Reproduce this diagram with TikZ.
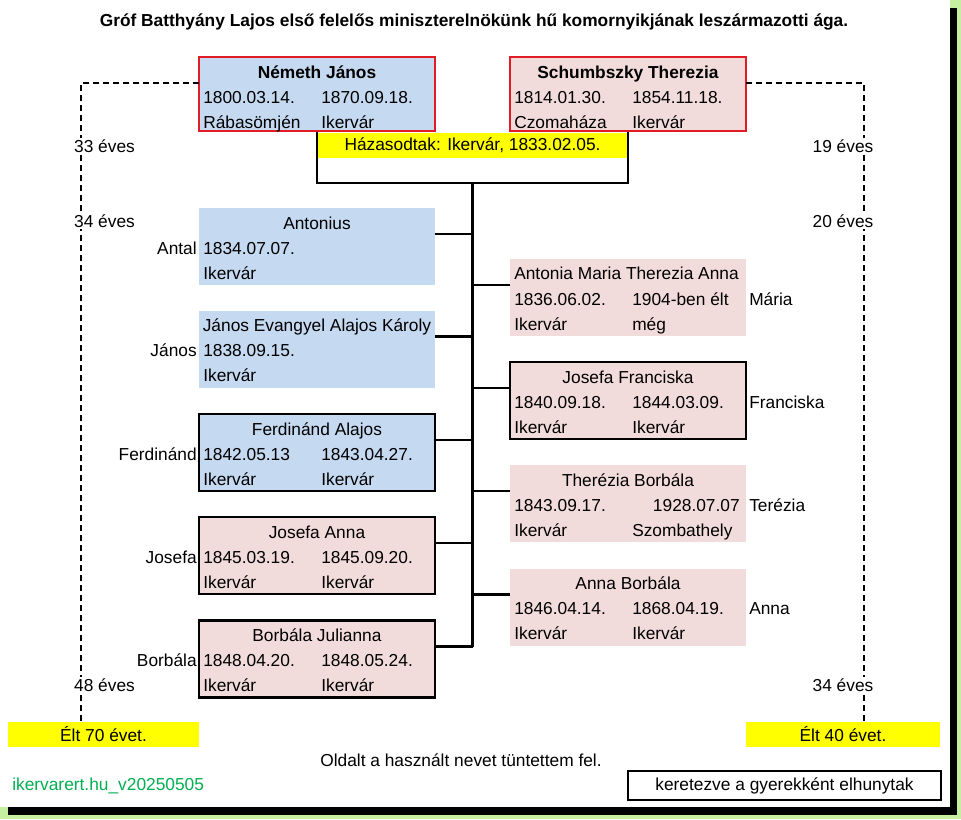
\documentclass[tikz,border=0pt]{standalone}
\usepackage{fontspec}
\setmainfont{Liberation Sans}
\usetikzlibrary{calc}
\definecolor{pblue}{HTML}{C5D9F1}
\definecolor{ppink}{HTML}{F2DCDB}
\definecolor{pred}{RGB}{226,28,36}
\definecolor{wgreen}{HTML}{00B050}
\definecolor{frgreen}{RGB}{196,240,160}
\definecolor{hyellow}{HTML}{FFFF00}
\tikzset{
  every node/.style={font=\fontsize{13}{15}\selectfont},
  pbox/.style={rectangle, minimum width=177pt, minimum height=57.75pt, inner sep=0, outer sep=0},
  topbox/.style={pbox, minimum height=55.5pt, draw=pred, line width=1.5pt},
  kbox/.style={draw=black, line width=1.6pt},
  conn/.style={line width=1.6pt, draw=black},
  dsh/.style={line width=0.8pt, dash pattern=on 4.5pt off 3pt},
  cellL/.style={anchor=base west, inner sep=0},
  cellR/.style={anchor=base east, inner sep=0},
  cellC/.style={anchor=base, inner sep=0},
  agel/.style={fill=white, inner sep=1.5pt},
  ybox/.style={fill=hyellow, inner sep=0, minimum height=18.75pt},
}
\newcommand{\Cells}[5]{%
  \node[cellL] (#1-d1) at ($(#1.north west)+(4,46)$) {#2};
  \node[cellL] (#1-d2) at ($(#1.north west)+(122,46)$) {#3};
  \node[cellL] (#1-p1) at ($(#1.north west)+(4,71)$) {#4};
  \node[cellL] (#1-p2) at ($(#1.north west)+(122,71)$) {#5};}
\newcommand{\Ttl}[2]{\node[cellC] (#1-t) at ($(#1.north)+(0,21)$) {#2};}
\newcommand{\LLab}[2]{\node[cellR] (#1-l) at ($(#1.north west)+(-2,46)$) {#2};}
\newcommand{\RLab}[2]{\node[cellL] (#1-l) at ($(#1.north east)+(3,46)$) {#2};}
\begin{document}
\begin{tikzpicture}[x=0.75pt,y=-0.75pt]
\useasboundingbox (0,0) rectangle (961,819);
% frame
\fill[frgreen] (0,0) rectangle (961,819);
\fill[black] (8,8) rectangle (957,815);
\fill[white] (0,0) rectangle (950,807);

% title
\node[font=\fontsize{13}{15}\selectfont\bfseries] (title) at (474,22) {Gróf Batthyány Lajos első felelős miniszterelnökünk hű komornyikjának leszármazotti ága.};

% marriage bracket
\node[minimum width=233.25pt, minimum height=39pt, inner sep=0, outer sep=0] (m) at (472.5,157) {};
\node[ybox, minimum width=231.75pt] (mt) at (472.5,145.5) {Házasodtak: Ikervár, 1833.02.05.};
\draw[conn] (m.north west) -- (m.south west) -- (m.south east) -- (m.north east);

% parents
\node[topbox, fill=pblue] (nj) at (317,94) {};
\Ttl{nj}{\textbf{Németh János}}
\Cells{nj}{1800.03.14.}{1870.09.18.}{Rábasömjén}{Ikervár}
\node[topbox, fill=ppink] (st) at (628,94) {};
\Ttl{st}{\textbf{Schumbszky Therezia}}
\Cells{st}{1814.01.30.}{1854.11.18.}{Czomaháza}{Ikervár}

% yellow life boxes
\node[ybox, minimum width=143.25pt] (e70) at (103.5,734.5) {Élt 70 évet.};
\node[ybox, minimum width=145.5pt] (e40) at (843,734.5) {Élt 40 évet.};

% dashed age lines
\coordinate (lc) at (81,83);
\coordinate (rc) at (864,83);
\draw[dsh] (nj.west |- lc) -- (lc) -- (lc |- e70.north);
\draw[dsh] (st.east |- rc) -- (rc) -- (rc |- e40.north);
\node[agel] (a33) at (104.5,146) {33 éves};
\node[agel] (a34) at (104.5,221) {34 éves};
\node[agel] (a48) at (104.5,685) {48 éves};
\node[agel] (a19) at (843,146) {19 éves};
\node[agel] (a20) at (843,221) {20 éves};
\node[agel] (a34r) at (843,685) {34 éves};

% children boxes
\node[pbox, fill=pblue] (c1) at (317,246.5) {};
\node[pbox, fill=pblue] (c2) at (317,349) {};
\node[pbox, fill=pblue, kbox] (c3) at (317,452.5) {};
\node[pbox, fill=ppink, kbox] (c4) at (317,555.5) {};
\node[pbox, fill=ppink, kbox] (c5) at (317,659) {};
\node[pbox, fill=ppink] (d1) at (628,297.5) {};
\node[pbox, fill=ppink, kbox] (d2) at (628,400.5) {};
\node[pbox, fill=ppink] (d3) at (628,503.5) {};
\node[pbox, fill=ppink] (d4) at (628,607) {};

% connectors
\foreach \b in {c1,c2,c3,c4,c5}{
  \coordinate (\b-c) at ($(\b.north east)+(0,26)$);
  \draw[conn] (\b-c) -- (\b-c -| m.south);
}
\foreach \b in {d1,d2,d3,d4}{
  \coordinate (\b-c) at ($(\b.north west)+(0,26)$);
  \draw[conn] (\b-c) -- (\b-c -| m.south);
}
\draw[conn] (m.south) -- (m.south |- c5-c);

% children texts
\Ttl{c1}{Antonius}
\node[cellL] (c1-d1) at ($(c1.north west)+(4,46)$) {1834.07.07.};
\node[cellL] (c1-p1) at ($(c1.north west)+(4,71)$) {Ikervár};
\LLab{c1}{Antal}

\Ttl{c2}{János Evangyel Alajos Károly}
\node[cellL] (c2-d1) at ($(c2.north west)+(4,46)$) {1838.09.15.};
\node[cellL] (c2-p1) at ($(c2.north west)+(4,71)$) {Ikervár};
\LLab{c2}{János}

\Ttl{c3}{Ferdinánd Alajos}
\Cells{c3}{1842.05.13}{1843.04.27.}{Ikervár}{Ikervár}
\LLab{c3}{Ferdinánd}

\Ttl{c4}{Josefa Anna}
\Cells{c4}{1845.03.19.}{1845.09.20.}{Ikervár}{Ikervár}
\LLab{c4}{Josefa}

\Ttl{c5}{Borbála Julianna}
\Cells{c5}{1848.04.20.}{1848.05.24.}{Ikervár}{Ikervár}
\LLab{c5}{Borbála}

\node[cellL] (d1-t) at ($(d1.north west)+(4,20)$) {Antonia Maria Therezia Anna};
\Cells{d1}{1836.06.02.}{1904-ben élt}{Ikervár}{még}
\RLab{d1}{Mária}

\Ttl{d2}{Josefa Franciska}
\Cells{d2}{1840.09.18.}{1844.03.09.}{Ikervár}{Ikervár}
\RLab{d2}{Franciska}

\Ttl{d3}{Therézia Borbála}
\node[cellL] (d3-d1) at ($(d3.north west)+(4,46)$) {1843.09.17.};
\node[cellR] (d3-d2) at ($(d3.north east)+(-6,46)$) {1928.07.07};
\node[cellL] (d3-p1) at ($(d3.north west)+(4,71)$) {Ikervár};
\node[cellL] (d3-p2) at ($(d3.north west)+(122,71)$) {Szombathely};
\RLab{d3}{Terézia}

\Ttl{d4}{Anna Borbála}
\Cells{d4}{1846.04.14.}{1868.04.19.}{Ikervár}{Ikervár}
\RLab{d4}{Anna}

% footer
\node (note) at (461,760) {Oldalt a használt nevet tüntettem fel.};
\node[anchor=west, inner sep=0, text=wgreen] (web) at (12,786) {ikervarert.hu\_v20250505};
\node[draw=black, line width=1.5pt, minimum width=234.75pt, minimum height=21.75pt, inner sep=0] (leg) at (784.5,785.5) {keretezve a gyerekként elhunytak};
\end{tikzpicture}
\end{document}
